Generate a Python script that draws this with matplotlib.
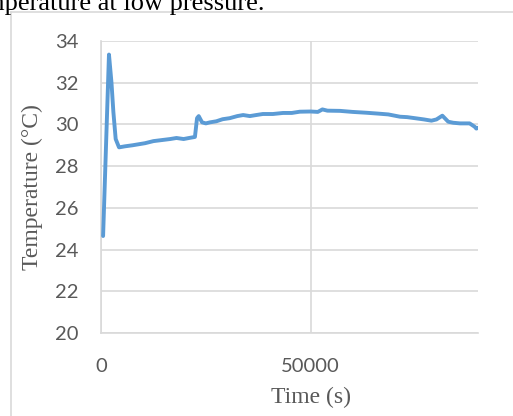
import matplotlib.pyplot as plt
import matplotlib.lines as mlines

# temperature log, values
time_s = [500, 1900, 2500, 2950, 3500, 4300, 5700, 7500, 9000, 10500, 12500,
          14500, 16500, 18000, 19700, 21000, 22400, 22900, 23300, 24100, 25000,
          26000, 27500, 29000, 30700, 32500, 33900, 35500, 37000, 38600, 41000,
          43400, 45500, 47400, 50000, 51700, 52800, 54000, 57000, 60000, 63300,
          66000, 68500, 71300, 73000, 75200, 77000, 78800, 80000, 81400, 82800,
          84000, 85600, 87900, 89100, 89500, 89900]
temp_c = [24.65, 33.35, 32.0, 30.6, 29.3, 28.9, 28.95, 29.0, 29.05, 29.1, 29.2,
          29.25, 29.3, 29.35, 29.3, 29.35, 29.4, 30.3, 30.4, 30.1, 30.05,
          30.1, 30.15, 30.25, 30.3, 30.4, 30.45, 30.4, 30.45, 30.5, 30.5,
          30.55, 30.55, 30.61, 30.62, 30.6, 30.72, 30.66, 30.65, 30.6, 30.56,
          30.52, 30.48, 30.37, 30.35, 30.29, 30.24, 30.18, 30.24, 30.42, 30.13,
          30.08, 30.05, 30.05, 29.89, 29.8, 29.84]

y_ticks = [20, 22, 24, 26, 28, 30, 32, 34]
x_ticks = [0, 50000]

grid_col = '#d9d9d9'
tick_col = '#595959'

fig = plt.figure(figsize=(5.13, 4.16), dpi=100)
ax = fig.add_axes([101/513, 1 - 333/416, 377/513, 292/416])

ax.plot(time_s, temp_c, color='#5b9bd5', lw=2.8, solid_joinstyle='round',
        solid_capstyle='round', zorder=3)

ax.set_xlim(0, 89900)
ax.set_ylim(20, 34)
ax.set_yticks(y_ticks)
ax.set_xticks(x_ticks)
ax.grid(True, color=grid_col, lw=1.2)
ax.set_axisbelow(True)

for s in ['top', 'right']:
    ax.spines[s].set_visible(False)
for s in ['left', 'bottom']:
    ax.spines[s].set_color(grid_col)
    ax.spines[s].set_linewidth(1.2)

ax.tick_params(length=0, colors=tick_col, labelsize=14.5)
ax.tick_params(axis='y', pad=16)
ax.tick_params(axis='x', pad=18)
for lab in ax.get_xticklabels() + ax.get_yticklabels():
    lab.set_fontfamily('Lato')

ax.set_xlabel('Time (s)', family='Liberation Serif', fontsize=17, color=tick_col)
ax.set_ylabel('Temperature (°C)', family='Liberation Serif', fontsize=17, color=tick_col)
ax.xaxis.set_label_coords((311 - 101) / 377, -(387 - 333) / 292)
ax.yaxis.set_label_coords(-(101 - 43) / 377, 0.5)

# chart frame (only left and top edges visible)
fig.add_artist(mlines.Line2D([11/513, 11/513], [0, 1 - 12/416], color=grid_col, lw=1.2))
fig.add_artist(mlines.Line2D([11/513, 1], [1 - 12/416, 1 - 12/416], color=grid_col, lw=1.2))

# caption above the chart, cut off by the image edge
fig.text(265/513, 1 - 10/416, 'Temperature at low pressure.', ha='right', va='baseline',
         family='Liberation Serif', fontsize=19, color='black')

fig.savefig('out.png', dpi=100)
